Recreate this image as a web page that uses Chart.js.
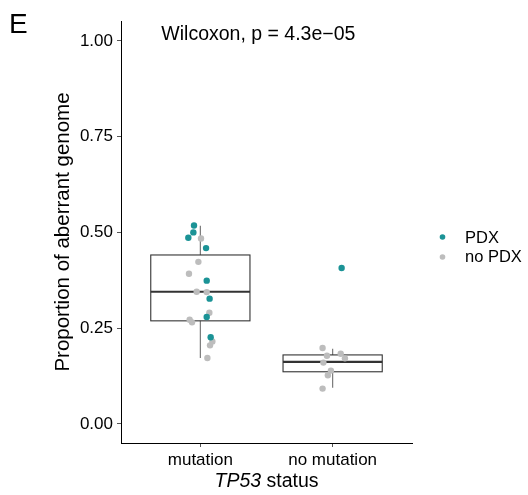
<!DOCTYPE html>
<html>
<head>
<meta charset="utf-8">
<script src="https://cdn.jsdelivr.net/npm/chart.js@4"></script>
<style>
  html, body { margin: 0; padding: 0; background: #fff; }
  #wrap { position: relative; width: 528px; height: 495px; }
</style>
</head>
<body>
<div id="wrap"><canvas id="chart" width="528" height="495"></canvas></div>
<script>
const categories = ["mutation", "no mutation"];
const yTicks = [0, 0.25, 0.5, 0.75, 1.0];

// box plot summary per category
const whiskerLow = [0.172, 0.094];
const boxLower = [0.269, 0.136];
const boxMedian = [0.345, 0.162];
const boxUpper = [0.441, 0.180];
const whiskerHigh = [0.517, 0.196];

// PDX points: category index (1 = mutation, 2 = no mutation), jitter, value
const pdxGroup = [1, 1, 1, 1, 1, 1, 1, 1, 2];
const pdxJitter = [-0.048, -0.053, -0.091, 0.043, 0.048, 0.070, 0.048, 0.078, 0.068];
const pdxValue = [0.518, 0.500, 0.486, 0.459, 0.374, 0.327, 0.279, 0.226, 0.407];

// no PDX points
const noPdxGroup = [1, 1, 1, 1, 1, 1, 1, 1, 1, 1, 1, 2, 2, 2, 2, 2, 2, 2, 2];
const noPdxJitter = [0.005, -0.015, -0.086, -0.028, 0.048, 0.068, -0.081, -0.063, 0.091, 0.073, 0.053,
  -0.076, -0.043, 0.061, 0.093, -0.070, -0.013, -0.036, -0.076];
const noPdxValue = [0.484, 0.423, 0.392, 0.345, 0.344, 0.290, 0.272, 0.265, 0.215, 0.205, 0.172,
  0.198, 0.178, 0.183, 0.171, 0.160, 0.139, 0.127, 0.092];

const teal = "#1b9396";
const grey = "#bdbdbd";
const FONT = "'Liberation Sans', Arial, Helvetica, sans-serif";

function toPoints(groups, jitter, values) {
  return values.map((v, i) => ({ x: groups[i] + jitter[i], y: v }));
}

const boxPlot = {
  id: "boxPlot",
  beforeDatasetsDraw(chart) {
    const { ctx, scales: { x, y } } = chart;
    const half = 0.375;
    ctx.save();
    categories.forEach((c, i) => {
      const cx = x.getPixelForValue(i + 1);
      const l = x.getPixelForValue(i + 1 - half);
      const r = x.getPixelForValue(i + 1 + half);
      // whiskers
      ctx.strokeStyle = "#7a7a7a";
      ctx.lineWidth = 1.2;
      ctx.beginPath();
      ctx.moveTo(cx, y.getPixelForValue(boxUpper[i]));
      ctx.lineTo(cx, y.getPixelForValue(whiskerHigh[i]));
      ctx.moveTo(cx, y.getPixelForValue(boxLower[i]));
      ctx.lineTo(cx, y.getPixelForValue(whiskerLow[i]));
      ctx.stroke();
      // box
      ctx.strokeStyle = "#333";
      ctx.lineWidth = 1.1;
      const top = y.getPixelForValue(boxUpper[i]);
      const bot = y.getPixelForValue(boxLower[i]);
      ctx.strokeRect(l, top, r - l, bot - top);
      // median
      ctx.lineWidth = 2.2;
      ctx.beginPath();
      const m = y.getPixelForValue(boxMedian[i]);
      ctx.moveTo(l, m);
      ctx.lineTo(r, m);
      ctx.stroke();
    });
    ctx.restore();
  },
  afterDraw(chart) {
    const { ctx, scales: { x, y } } = chart;
    ctx.save();
    ctx.fillStyle = "#000";
    ctx.textBaseline = "alphabetic";
    ctx.textAlign = "left";
    // panel letter
    ctx.font = "28px " + FONT;
    ctx.fillText("E", 9, 33);
    // test annotation
    ctx.font = "19.5px " + FONT;
    ctx.fillText("Wilcoxon, p = 4.3e\u221205", x.getPixelForValue(0.705), 40);
    // x title with italic gene name
    const a = "TP53";
    const b = " status";
    ctx.font = "italic 19.5px " + FONT;
    const wa = ctx.measureText(a).width;
    ctx.font = "19.5px " + FONT;
    const wb = ctx.measureText(b).width;
    const mid = (chart.chartArea.left + chart.chartArea.right) / 2;
    const sx = mid - (wa + wb) / 2;
    ctx.font = "italic 19.5px " + FONT;
    ctx.fillText(a, sx, 487);
    ctx.font = "19.5px " + FONT;
    ctx.fillText(b, sx + wa, 487);
    // legend
    const items = [["PDX", teal, 237, 242.5], ["no PDX", grey, 257, 261.5]];
    ctx.font = "16.5px " + FONT;
    items.forEach(([t, c, dy, by]) => {
      ctx.fillStyle = c;
      ctx.beginPath();
      ctx.arc(442.5, dy, 2.8, 0, Math.PI * 2);
      ctx.fill();
      ctx.fillStyle = "#000";
      ctx.fillText(t, 465, by);
    });
    ctx.restore();
  }
};

new Chart(document.getElementById("chart"), {
  type: "scatter",
  data: {
    datasets: [
      {
        label: "PDX",
        data: toPoints(pdxGroup, pdxJitter, pdxValue),
        backgroundColor: teal,
        borderWidth: 0,
        pointRadius: 3.2,
      },
      {
        label: "no PDX",
        data: toPoints(noPdxGroup, noPdxJitter, noPdxValue),
        backgroundColor: grey,
        borderWidth: 0,
        pointRadius: 3.2,
      },
    ],
  },
  options: {
    responsive: false,
    animation: false,
    events: [],
    layout: { padding: { top: 21, right: 116, left: 51, bottom: 0 } },
    plugins: { legend: { display: false }, tooltip: { enabled: false } },
    scales: {
      x: {
        type: "linear",
        min: 0.4,
        max: 2.6,
        afterBuildTicks: (s) => { s.ticks = categories.map((c, i) => ({ value: i + 1 })); },
        afterFit: (s) => { s.height = 52; },
        ticks: {
          callback: (v) => categories[v - 1],
          color: "#000",
          font: { family: FONT, size: 17 },
          padding: 3,
        },
        grid: { display: true, drawOnChartArea: false, drawTicks: true, tickLength: 4, tickColor: "#555" },
        border: { display: true, color: "#000", width: 1 },
      },
      y: {
        min: -0.05,
        max: 1.052,
        afterBuildTicks: (s) => { s.ticks = yTicks.map((v) => ({ value: v })); },
        afterFit: (s) => { s.width = 70; },
        ticks: {
          callback: (v) => v.toFixed(2),
          color: "#000",
          font: { family: FONT, size: 17 },
          padding: 4,
        },
        grid: { display: true, drawOnChartArea: false, drawTicks: true, tickLength: 4, tickColor: "#555" },
        border: { display: true, color: "#000", width: 1 },
        title: {
          display: true,
          text: "Proportion of aberrant genome",
          color: "#000",
          font: { family: FONT, size: 20.5 },
          padding: { top: 0, bottom: 0 },
        },
      },
    },
  },
  plugins: [boxPlot],
});
</script>
</body>
</html>
